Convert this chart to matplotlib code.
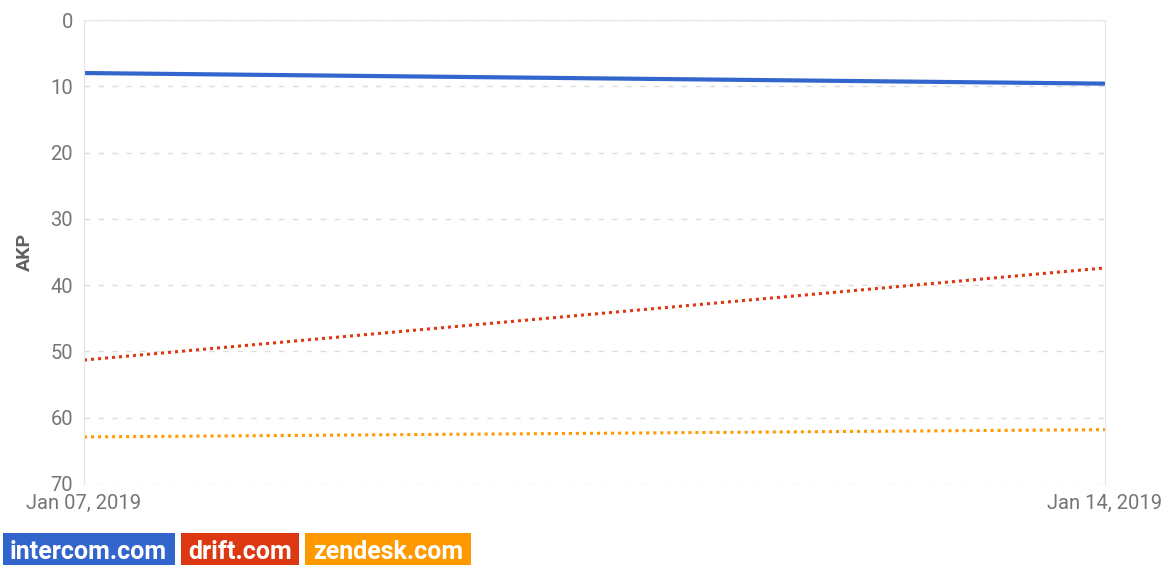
import datetime as dt
import matplotlib
matplotlib.use("Agg")
import matplotlib.pyplot as plt
import matplotlib.dates as mdates

# Dados
datas = [dt.date(2019, 1, 7), dt.date(2019, 1, 14)]
intercom = [8.0, 9.6]
drift = [51.3, 37.4]
zendesk = [62.9, 61.8]
nomes = ["intercom.com", "drift.com", "zendesk.com"]
cores = ["#3366CC", "#DC3912", "#FF9900"]

plt.rcParams["font.family"] = ["Roboto", "DejaVu Sans"]

fig = plt.figure(figsize=(11.73, 5.65), dpi=100)
ax = fig.add_axes([84 / 1173, 81 / 565, 1021 / 1173, 464 / 565])

ax.plot(datas, intercom, color=cores[0], lw=3, solid_capstyle="butt")
ax.plot(datas, drift, color=cores[1], lw=2.2, linestyle=(0, (1, 1.3)))
ax.plot(datas, zendesk, color=cores[2], lw=2.2, linestyle=(0, (1, 1.3)))

ax.set_xlim(datas[0], datas[1])
ax.set_ylim(70, 0)
ax.set_yticks(range(0, 71, 10))
ax.set_xticks(datas)
ax.xaxis.set_major_formatter(mdates.DateFormatter("%b %d, %Y"))

ax.grid(axis="y", color="#dddddd", linestyle=(0, (4, 6)), lw=1)
for lado in ["left", "right", "top"]:
    ax.spines[lado].set_color("#e4e4e4")
ax.spines["bottom"].set_visible(False)
ax.tick_params(length=0, labelsize=14.5, labelcolor="#757575")
ax.tick_params(axis="y", pad=8)
ax.tick_params(axis="x", pad=7)
ax.set_ylabel("AKP", fontsize=14, fontweight="bold", color="#616161", labelpad=12)

# legenda em caixas coloridas
fig.canvas.draw()
r = fig.canvas.get_renderer()
x = 10
for nome, cor in zip(nomes, cores):
    t = fig.text(x / 1173, 13 / 565, nome, color="white", fontsize=18, fontweight="bold",
                 va="center", ha="left",
                 bbox=dict(boxstyle="square,pad=0.3", fc=cor, ec="none"))
    fig.canvas.draw()
    bb = t.get_bbox_patch().get_window_extent(r)
    x = bb.x1 + 6 + (x - bb.x0)

fig.savefig("out.png", dpi=100)
